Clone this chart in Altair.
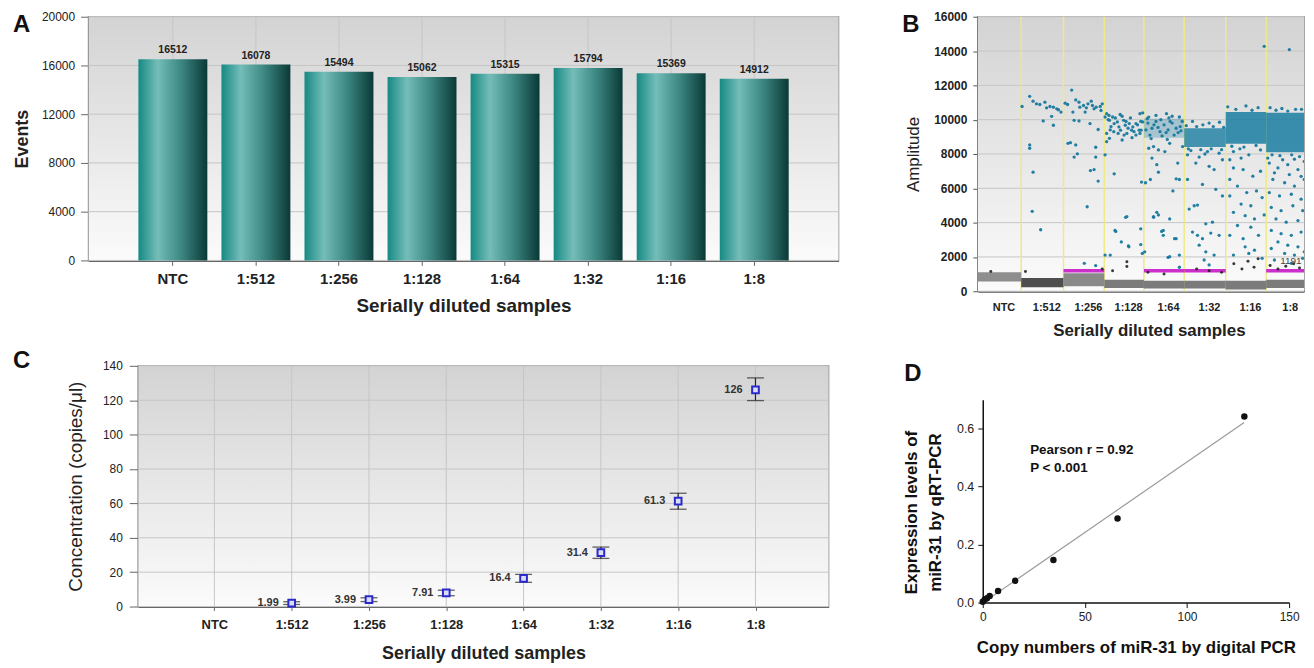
import altair as alt
import pandas as pd

FONT = "Liberation Sans"

# ---------------- shared categories ----------------
samples = ["NTC", "1:512", "1:256", "1:128", "1:64", "1:32", "1:16", "1:8"]

# ---------------- Panel A: droplet events ----------------
events = [16512, 16078, 15494, 15062, 15315, 15794, 15369, 14912]
a_yticks = [0, 4000, 8000, 12000, 16000, 20000]

# ---------------- Panel B: droplet amplitudes ----------------
b_yticks = [0, 2000, 4000, 6000, 8000, 10000, 12000, 14000, 16000]
neg_low = [575, 230, 290, 190, 155, 155, 100, 190]
neg_high = [1100, 770, 1050, 670, 610, 610, 610, 670]
neg_color = ["#8e8e8e", "#4f4f4f", "#8a8a8a", "#7b7b7b", "#7b7b7b", "#7b7b7b", "#7b7b7b", "#7b7b7b"]
threshold = 1191
thr_wells = ["1:256", "1:64", "1:32", "1:8"]
clu_wells = ["1:64", "1:32", "1:16", "1:8"]
clu_low = [8950, 8400, 8600, 8100]
clu_high = [10050, 9500, 10450, 10400]
clu_opacity = [0.3, 0.8, 0.85, 0.85]

# positive droplets: (fraction through the well, amplitude)
p512 = [(0.02, 10768), (0.20, 11362), (0.28, 11075), (0.36, 10922), (0.44, 10884), (0.56, 11018),
        (0.60, 10692), (0.68, 10768), (0.76, 10730), (0.84, 10634), (0.88, 10577), (0.94, 10443),
        (0.52, 9925), (0.76, 9676), (0.72, 10194), (0.20, 8527), (0.20, 8335), (0.28, 6937),
        (0.26, 4657), (0.46, 3583)]
p256 = [(0.20, 11727), (0.04, 10960), (0.10, 10884), (0.23, 10443), (0.30, 11152), (0.38, 11018),
        (0.40, 10730), (0.49, 10826), (0.53, 10443), (0.56, 10692), (0.60, 10922), (0.68, 11075),
        (0.71, 10826), (0.75, 10634), (0.80, 10730), (0.90, 10768), (0.92, 10539), (0.95, 10922),
        (0.26, 9964), (0.38, 9925), (0.65, 9772), (0.85, 9427), (0.11, 8623), (0.17, 8661),
        (0.30, 8527), (0.34, 8009), (0.26, 7818), (0.79, 8393), (0.79, 7818), (0.75, 7090),
        (0.66, 7032), (0.85, 6419), (0.58, 4925), (0.51, 1629), (0.79, 1495)]
p128 = [(0.02, 10155), (0.06, 10347), (0.13, 9964), (0.21, 10155), (0.25, 9772), (0.33, 9868),
        (0.37, 9580), (0.41, 9389), (0.49, 9964), (0.53, 9676), (0.57, 9197), (0.63, 9772),
        (0.69, 9389), (0.72, 9580), (0.80, 9772), (0.88, 9389), (0.06, 9197), (0.13, 8910),
        (0.06, 8718), (0.45, 8814), (0.02, 7952), (0.25, 6841), (0.94, 6362), (0.57, 4350),
        (0.29, 3487), (0.43, 2875), (0.61, 2645), (0.92, 2721), (0.02, 2108), (0.90, 10347),
        (0.97, 9868), (0.93, 9389), (0.10, 10000), (0.17, 9600), (0.28, 10100), (0.45, 10200),
        (0.55, 9900), (0.60, 9500), (0.66, 10100), (0.75, 9300), (0.84, 9700), (0.92, 9900),
        (0.35, 9200), (0.15, 9400), (0.50, 9100), (0.70, 8950), (0.80, 9100), (0.90, 9200),
        (0.97, 10400), (0.40, 10300), (0.24, 9300), (0.12, 10250), (0.54, 4311), (0.27, 3545),
        (0.62, 2587), (0.96, 2203), (0.92, 3640), (0.15, 2108)]
p64 = [(0.24, 8431), (0.36, 8239), (0.20, 7760), (0.32, 7377), (0.36, 6937), (0.80, 6553),
       (0.72, 5844), (0.36, 4446), (0.24, 4350), (0.44, 3487), (0.48, 3258), (0.76, 3066),
       (0.60, 1974), (0.88, 1399), (0.08, 10060), (0.56, 10347), (0.88, 10155), (0.12, 8335),
       (0.52, 8143), (0.64, 8623), (0.96, 8431), (0.24, 4311), (0.32, 4598), (0.64, 4215),
       (0.48, 3545), (0.80, 3066), (0.64, 2012), (0.88, 2108), (0.16, 6514), (0.84, 7473),
       (0.88, 6514), (0.04, 6323), (0.02, 2300), (0.30, 10250), (0.70, 10200), (0.10, 9800),
       (0.20, 9500), (0.30, 9900), (0.40, 9300), (0.50, 9700), (0.60, 9400), (0.70, 9800),
       (0.80, 9500), (0.90, 9600), (0.15, 9100), (0.45, 9050), (0.75, 9100), (0.95, 9900),
       (0.05, 9400), (0.25, 9700), (0.35, 9550), (0.55, 9250), (0.65, 9900), (0.85, 9250),
       (0.12, 10150), (0.42, 10000), (0.62, 10100), (0.92, 9350), (0.18, 8900), (0.58, 8850)]
p32 = [(0.08, 7952), (0.36, 7818), (0.60, 7282), (0.72, 7090), (0.08, 6515), (0.44, 6228),
       (0.76, 5940), (0.92, 5557), (0.24, 4982), (0.32, 5020), (0.12, 4790), (0.52, 3928),
       (0.68, 4024), (0.20, 3449), (0.32, 3258), (0.44, 3066), (0.64, 3392), (0.84, 3258),
       (0.36, 2683), (0.52, 2300), (0.72, 2108), (0.48, 1821), (0.60, 1534), (0.16, 8200),
       (0.56, 8143), (0.84, 8048), (0.28, 7473), (0.92, 7665), (0.20, 9900), (0.60, 9800),
       (0.85, 9850), (0.05, 9650), (0.30, 9600), (0.45, 9700), (0.70, 9600), (0.95, 9550),
       (0.10, 8300), (0.40, 8250), (0.65, 8300), (0.90, 8250), (0.50, 8000)]
p16 = [(0.10, 7665), (0.19, 7186), (0.43, 7090), (0.67, 6707), (0.86, 6994), (0.10, 6515),
       (0.29, 6132), (0.52, 5749), (0.76, 5844), (0.10, 5557), (0.38, 5078), (0.62, 4982),
       (0.90, 5461), (0.19, 4599), (0.48, 4407), (0.71, 4216), (0.95, 4446), (0.29, 3832),
       (0.62, 3737), (0.10, 3258), (0.43, 3066), (0.81, 3258), (0.48, 2587), (0.71, 2396),
       (0.19, 2108), (0.57, 2204), (0.90, 1917), (0.19, 8143), (0.57, 7952), (0.86, 8239),
       (0.38, 7760), (0.95, 14275), (0.05, 10750), (0.50, 10800), (0.80, 10700),
       (0.25, 10600), (0.65, 10550), (0.15, 8450), (0.45, 8400), (0.75, 8500), (0.35, 8300)]
p8 = [(0.08, 7473), (0.30, 7186), (0.55, 7377), (0.81, 7090), (0.97, 7569), (0.17, 6515),
      (0.47, 6323), (0.72, 6132), (0.97, 6515), (0.08, 5749), (0.34, 5557), (0.64, 5653),
      (0.89, 5366), (0.13, 4887), (0.38, 4695), (0.68, 4982), (0.93, 4695), (0.25, 4216),
      (0.51, 4024), (0.81, 4120), (0.13, 3545), (0.38, 3354), (0.64, 3258), (0.89, 3449),
      (0.30, 2875), (0.55, 2683), (0.81, 2587), (0.13, 2492), (0.47, 2204), (0.72, 2108),
      (0.97, 2300), (0.21, 1821), (0.64, 1629), (0.93, 1917), (0.59, 14083), (0.04, 7760),
      (0.42, 7665), (0.72, 7700), (0.21, 6900), (0.59, 6800), (0.89, 6700), (0.10, 10700),
      (0.40, 10650), (0.75, 10600), (0.25, 10550), (0.55, 10500), (0.90, 10600),
      (0.15, 7950), (0.35, 7900), (0.65, 7950), (0.85, 7850)]
black_pts = [("NTC", 0.30, 1150), ("1:512", 0.10, 1150), ("1:256", 0.95, 1300),
             ("1:128", 0.57, 1725), ("1:128", 0.57, 1438), ("1:128", 0.21, 1189),
             ("1:64", 0.10, 1100), ("1:64", 0.50, 1000), ("1:32", 0.30, 1300),
             ("1:32", 0.60, 1200), ("1:32", 0.90, 1100), ("1:16", 0.20, 1600),
             ("1:16", 0.40, 1300), ("1:16", 0.55, 1750), ("1:16", 0.70, 1400),
             ("1:16", 0.80, 1900), ("1:8", 0.10, 1500), ("1:8", 0.30, 1300),
             ("1:8", 0.50, 1450), ("1:8", 0.70, 1600), ("1:8", 0.85, 1350)]

# ---------------- Panel C: concentration ----------------
c_samples = ["1:512", "1:256", "1:128", "1:64", "1:32", "1:16", "1:8"]
conc = [1.99, 3.99, 7.91, 16.4, 31.4, 61.3, 126]
conc_lo = [1.2, 2.9, 6.3, 14.1, 28.0, 56.6, 119.8]
conc_hi = [2.8, 5.1, 9.5, 18.7, 34.6, 65.9, 133.0]
conc_lbl = ["1.99", "3.99", "7.91", "16.4", "31.4", "61.3", "126"]
c_yticks = [0, 20, 40, 60, 80, 100, 120, 140]

# ---------------- Panel D: correlation ----------------
d_copies = [0, 1.0, 2.1, 3.4, 7.5, 15.9, 34.6, 66.0, 128.1]
d_expr = [0.003, 0.011, 0.015, 0.023, 0.040, 0.075, 0.147, 0.290, 0.642]

# ============ helpers ============
GRID = "#c6c6c6"
bg_grad = alt.Gradient(gradient="linear", x1=0, x2=0, y1=0, y2=1,
                       stops=[alt.GradientStop(color="#d3d3d3", offset=0),
                              alt.GradientStop(color="#fbfbfb", offset=1)])
bar_grad = alt.Gradient(gradient="linear", x1=0, x2=1, y1=0, y2=0,
                        stops=[alt.GradientStop(color="#168983", offset=0),
                               alt.GradientStop(color="#74bdb9", offset=0.28),
                               alt.GradientStop(color="#3c8782", offset=0.62),
                               alt.GradientStop(color="#0a3936", offset=1)])


def letter(t, x, y):
    return alt.Chart(pd.DataFrame({"t": [t]})).mark_text(
        align="left", baseline="alphabetic", fontSize=24, fontWeight="bold", color="#111"
    ).encode(x=alt.value(x), y=alt.value(y), text="t:N")


def background():
    return alt.Chart(pd.DataFrame({"z": [0]})).mark_rect(fill=bg_grad).encode(
        x=alt.value(0), x2=alt.value("width"), y=alt.value(0), y2=alt.value("height"))


FRAME = alt.ViewBackground(stroke="#8a8a8a", strokeWidth=1.5)

# ============ Panel A ============
dfA = pd.DataFrame({"sample": samples, "events": events, "lbl": [str(v) for v in events]})
xA = alt.X("sample:N", sort=samples,
           scale=alt.Scale(domain=samples, paddingInner=0.17, paddingOuter=0.6),
           axis=alt.Axis(title="Serially diluted samples", labelAngle=0, labelFontSize=15,
                         labelFontWeight="bold", labelColor="#222", labelPadding=6, tickSize=5,
                         tickColor="#666", domainColor="#666", domainWidth=2, grid=False,
                         titleFontSize=19, titleFontWeight="bold", titleColor="#222",
                         titlePadding=10))
yA = alt.Y("events:Q", scale=alt.Scale(domain=[0, 20000], nice=False),
           axis=alt.Axis(values=a_yticks, tickCount=30, format="d", title="Events",
                         labelFontSize=12, labelColor="#222", tickSize=8, tickColor="#666",
                         labelPadding=6, domainColor="#666", domainWidth=2, grid=False,
                         labelOverlap=False, titleFontSize=18, titleFontWeight="bold",
                         titleColor="#222", titlePadding=10))
gridAy = alt.Chart(pd.DataFrame({"events": a_yticks})).mark_rule(color=GRID).encode(y=yA)
gridAx = alt.Chart(pd.DataFrame({"sample": samples})).mark_rule(color=GRID).encode(x=xA)
barsA = alt.Chart(dfA).mark_bar(fill=bar_grad).encode(
    x=alt.X("sample:N", sort=samples), y="events:Q")
lblA = alt.Chart(dfA).mark_text(baseline="bottom", dy=-4, fontSize=10.5, fontWeight="bold",
                                color="#222").encode(
    x=alt.X("sample:N", sort=samples), y="events:Q", text="lbl:N")
panelA = alt.layer(background(), gridAy, gridAx, barsA, lblA, letter("A", -76, 15)).properties(
    width=754, height=245, view=FRAME)

# ============ Panel B ============
starts = [sum(events[:i]) for i in range(len(events))]
ends = [s + c for s, c in zip(starts, events)]
centers = [s + c // 2 for s, c in zip(starts, events)]
start_of = dict(zip(samples, starts))
count_of = dict(zip(samples, events))

label_expr = " : ".join(f"datum.value == {c} ? '{s}'" for c, s in zip(centers, samples)) + " : ''"
xB_scale = alt.Scale(domain=[0, 124000], nice=False, zero=False)
yB_scale = alt.Scale(domain=[0, 16000], nice=False)
xB_axis = alt.Axis(values=centers, tickCount=30, labelExpr=label_expr, ticks=False, tickSize=0,
                   grid=False, title="Serially diluted samples", labelFontSize=11,
                   labelFontWeight="bold", labelColor="#222", labelPadding=10, labelOffset=4,
                   domainColor="#555", domainWidth=2, titleFontSize=17, titleFontWeight="bold",
                   titleColor="#222", titlePadding=10, titleX=172, labelFlush=False,
                   labelOverlap=False)
yB_axis = alt.Axis(values=b_yticks, tickCount=30, format="d", title="Amplitude",
                   labelFontSize=12, labelFontWeight="bold", labelColor="#222", tickSize=5,
                   tickColor="#555", labelPadding=6, domainColor="#555", domainWidth=2,
                   grid=False, labelOverlap=False, titleFontSize=17, titleFontWeight="normal",
                   titleColor="#222", titlePadding=11)

dfWell = pd.DataFrame({"sample": samples, "x0": starts, "x1": ends, "lo": neg_low,
                       "hi": neg_high, "col": neg_color})
dfBound = pd.DataFrame({"x0": ends[:-1]})
dfThr = pd.DataFrame({"x0": [start_of[w] for w in thr_wells],
                      "x1": [start_of[w] + count_of[w] for w in thr_wells],
                      "lo": [threshold] * len(thr_wells)})
dfClu = pd.DataFrame({"x0": [start_of[w] for w in clu_wells],
                      "x1": [start_of[w] + count_of[w] for w in clu_wells],
                      "lo": clu_low, "hi": clu_high, "op": clu_opacity})
pos_rows = []
for w, pts in [("1:512", p512), ("1:256", p256), ("1:128", p128), ("1:64", p64),
               ("1:32", p32), ("1:16", p16), ("1:8", p8)]:
    for f, a in pts:
        pos_rows.append({"x0": start_of[w] + f * count_of[w], "lo": a})
dfPos = pd.DataFrame(pos_rows)
dfBlk = pd.DataFrame([{"x0": start_of[w] + f * count_of[w], "lo": a} for w, f, a in black_pts])

gridB = alt.Chart(pd.DataFrame({"lo": b_yticks})).mark_rule(color=GRID).encode(
    y=alt.Y("lo:Q", scale=yB_scale, axis=yB_axis))
boundB = alt.Chart(dfBound).mark_rule(color="#eeea86", strokeWidth=1.5).encode(
    x=alt.X("x0:Q", scale=xB_scale, axis=xB_axis))
baseB = alt.Chart(dfWell).mark_rect(clip=True).encode(
    x="x0:Q", x2="x1:Q", y="lo:Q", y2="hi:Q", color=alt.Color("col:N", scale=None))
cluB = alt.Chart(dfClu).mark_rect(color="#1a7ea2", clip=True).encode(
    x="x0:Q", x2="x1:Q", y="lo:Q", y2="hi:Q", opacity=alt.Opacity("op:Q", scale=None))
thrB = alt.Chart(dfThr).mark_rule(color="#cc2fcc", strokeWidth=3.5, clip=True).encode(
    x="x0:Q", x2="x1:Q", y="lo:Q")
posB = alt.Chart(dfPos).mark_circle(size=11, color="#17799e", opacity=0.95, clip=True).encode(
    x="x0:Q", y="lo:Q")
blkB = alt.Chart(dfBlk).mark_circle(size=9, color="#222", opacity=0.9, clip=True).encode(
    x="x0:Q", y="lo:Q")
thrTxt = alt.Chart(pd.DataFrame({"x0": [119000], "lo": [1500], "t": [str(threshold)]})).mark_text(
    fontSize=10, color="#444", baseline="bottom").encode(x="x0:Q", y="lo:Q", text="t:N")
panelB = alt.layer(background(), gridB, boundB, baseB, cluB, thrB, posB, blkB, thrTxt,
                   letter("B", -76, 15)).properties(width=328, height=276, view=FRAME)

# ============ Panel C ============
dfC = pd.DataFrame({"sample": c_samples, "conc": conc, "lo": conc_lo, "hi": conc_hi,
                    "lbl": conc_lbl})
xC = alt.X("sample:N", sort=samples,
           scale=alt.Scale(type="point", domain=samples, padding=0.965, align=0.51),
           axis=alt.Axis(title="Serially diluted samples", labelAngle=0, labelFontSize=13,
                         labelFontWeight="bold", labelColor="#222", labelPadding=8, tickSize=4,
                         tickColor="#666", domainColor="#666", domainWidth=2, grid=False,
                         titleFontSize=18, titleFontWeight="bold", titleColor="#222",
                         titlePadding=13))
yC = alt.Y("conc:Q", scale=alt.Scale(domain=[0, 140], nice=False),
           axis=alt.Axis(values=c_yticks, tickCount=30, title="Concentration (copies/μl)",
                         labelFontSize=12, labelColor="#222", tickSize=9, tickColor="#666",
                         labelPadding=7, domainColor="#666", domainWidth=2, grid=False,
                         labelOverlap=False, titleFontSize=19, titleFontWeight="normal",
                         titleColor="#222", titlePadding=17))
gridCy = alt.Chart(pd.DataFrame({"conc": c_yticks})).mark_rule(color=GRID).encode(y=yC)
gridCx = alt.Chart(pd.DataFrame({"sample": samples})).mark_rule(color=GRID).encode(x=xC)
ruleC = alt.Chart(dfC).mark_rule(color="#222", strokeWidth=1.2).encode(
    x=alt.X("sample:N", sort=samples), y="lo:Q", y2="hi:Q")
capLo = alt.Chart(dfC).mark_tick(color="#222", size=17, thickness=1.3).encode(
    x=alt.X("sample:N", sort=samples), y="lo:Q")
capHi = alt.Chart(dfC).mark_tick(color="#222", size=17, thickness=1.3).encode(
    x=alt.X("sample:N", sort=samples), y="hi:Q")
ptC = alt.Chart(dfC).mark_point(shape="square", size=45, filled=True, fill="#dcdcf6",
                                stroke="#2a2acb", strokeWidth=2, opacity=1).encode(
    x=alt.X("sample:N", sort=samples), y="conc:Q")
txtC = alt.Chart(dfC).mark_text(align="right", dx=-13, baseline="middle", fontSize=11,
                                fontWeight="bold", color="#333").encode(
    x=alt.X("sample:N", sort=samples), y="conc:Q", text="lbl:N")
panelC = alt.layer(background(), gridCy, gridCx, ruleC, capLo, capHi, ptC, txtC,
                   letter("C", -126, 2)).properties(width=694, height=242, view=FRAME)

# ============ Panel D ============
dfD = pd.DataFrame({"copies": d_copies, "expr": d_expr})
xD = alt.X("copies:Q", scale=alt.Scale(domain=[0, 150], nice=False),
           axis=alt.Axis(values=[0, 50, 100, 150], tickCount=30,
                         title="Copy numbers of miR-31 by digital PCR",
                         grid=False, labelFontSize=12, labelColor="#222", labelPadding=4,
                         tickSize=5, tickColor="#111", domainColor="#111", domainWidth=1.5,
                         labelFlush=False, labelOverlap=False, titleFontSize=17,
                         titleFontWeight="bold", titleColor="#111", titlePadding=17))
yD = alt.Y("expr:Q", scale=alt.Scale(domain=[0, 0.7], nice=False, range=[238, 34]),
           axis=alt.Axis(values=[0, 0.2, 0.4, 0.6], tickCount=30, format=".1f",
                         title=["Expression levels of", "miR-31 by qRT-PCR"], grid=False,
                         labelFontSize=12.5, labelColor="#222", labelPadding=4, tickSize=5,
                         tickColor="#111", domainColor="#111", domainWidth=1.5,
                         labelOverlap=False, titleFontSize=17, titleFontWeight="bold",
                         titleColor="#111", titlePadding=12, titleLineHeight=24, titleY=147))
regD = alt.Chart(dfD).transform_regression("copies", "expr", extent=[0, 128]).mark_line(
    color="#9a9a9a", strokeWidth=1.2).encode(x=xD, y=yD)
ptD = alt.Chart(dfD).mark_circle(size=42, color="#111", opacity=1).encode(
    x="copies:Q", y="expr:Q")
annD = alt.Chart(pd.DataFrame({"copies": [23.2, 23.2], "expr": [0.526, 0.463],
                               "t": ["Pearson r = 0.92", "P < 0.001"]})).mark_text(
    align="left", baseline="middle", fontSize=13.5, fontWeight="bold", color="#111").encode(
    x="copies:Q", y="expr:Q", text="t:N")
panelD = alt.layer(regD, ptD, annD, letter("D", -79, 15)).properties(
    width=308, height=238, view=alt.ViewBackground(stroke="transparent"))


# ============ layout ============
def spacer():
    return alt.Chart(pd.DataFrame({"s": [0]})).mark_point(size=0, opacity=0).encode(
        x=alt.value(0), y=alt.value(0)).properties(
        width=1, height=1, view=alt.ViewBackground(stroke="transparent"))


row1 = alt.hconcat(spacer(), alt.hconcat(panelA, panelB, spacing=61), spacing=0)
row2 = alt.hconcat(spacer(), alt.hconcat(panelC, panelD, spacing=72), spacing=0)
chart = alt.vconcat(row1, row2, spacing=9).properties(
    padding={"left": 1, "top": 0, "right": 0, "bottom": 0}, background="white"
).configure(font=FONT)

chart.save("out.html", embed_options={"renderer": "svg", "actions": False})
